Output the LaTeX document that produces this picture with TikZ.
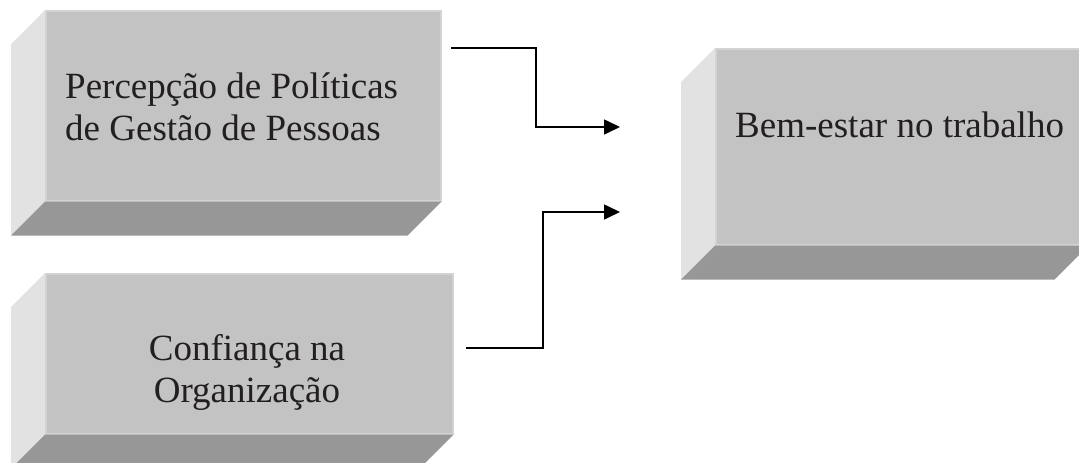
\documentclass[tikz,border=0pt]{standalone}
\usepackage{fontspec}
\setmainfont{Liberation Serif}
\usetikzlibrary{arrows.meta,calc}
\definecolor{frontc}{HTML}{C3C3C3}
\definecolor{leftc}{HTML}{E2E2E2}
\definecolor{botc}{HTML}{979797}
\definecolor{edgec}{HTML}{D3D3D3}
\definecolor{txtc}{HTML}{231F20}
\tikzset{
  front/.style={fill=frontc, draw=edgec, line width=1.5pt, inner sep=0pt, anchor=north west},
  leftface/.style={fill=leftc, draw=none},
  botface/.style={fill=botc, draw=none},
  label/.style={text=txtc, font=\fontsize{37}{42}\selectfont, inner sep=0pt},
  conn/.style={line width=1.6pt, -{Triangle[length=16pt,width=15pt]}}
}
\begin{document}
\begin{tikzpicture}[x=1pt,y=-1pt]
\useasboundingbox (0,0) rectangle (1079,463);
\clip (0,0) rectangle (1079,463);
% Box 1
\node[front, minimum width=395pt, minimum height=190pt] (b1) at (45,10) {};
\fill[leftface] (b1.north west) -- ++(-34,34) -- ($(b1.south west)+(-34,34)$) -- (b1.south west) -- cycle;
\fill[botface] (b1.south west) -- (b1.south east) -- ++(-34,34) -- ($(b1.south west)+(-34,34)$) -- cycle;
% Box 2
\node[front, minimum width=407pt, minimum height=160pt] (b2) at (45,273) {};
\fill[leftface] (b2.north west) -- ++(-34,34) -- ($(b2.south west)+(-34,34)$) -- (b2.south west) -- cycle;
\fill[botface] (b2.south west) -- (b2.south east) -- ++(-34,34) -- ($(b2.south west)+(-34,34)$) -- cycle;
% Box 3
\node[front, minimum width=372pt, minimum height=196pt] (b3) at (715,48) {};
\fill[leftface] (b3.north west) -- ++(-34,34) -- ($(b3.south west)+(-34,34)$) -- (b3.south west) -- cycle;
\fill[botface] (b3.south west) -- (b3.south east) -- ++(-34,34) -- ($(b3.south west)+(-34,34)$) -- cycle;
% Texts (base anchor = baseline of last line)
\node[label, anchor=base west, align=left] (t1) at (65,140) {Percepção de Políticas\\de Gestão de Pessoas};
\node[label, anchor=base, align=center] (t2) at (247,402) {Confiança na\\Organização};
\node[label, anchor=base west] (t3) at (735,137) {Bem-estar no trabalho};
% Connectors
\coordinate (s1) at (451,48);
\coordinate (e1) at (620,127);
\coordinate (s2) at (466,348);
\coordinate (e2) at (620,212);
\draw[conn] (s1) -| (536,127) -- (e1);
\draw[conn] (s2) -| (543,212) -- (e2);
\end{tikzpicture}
\end{document}
